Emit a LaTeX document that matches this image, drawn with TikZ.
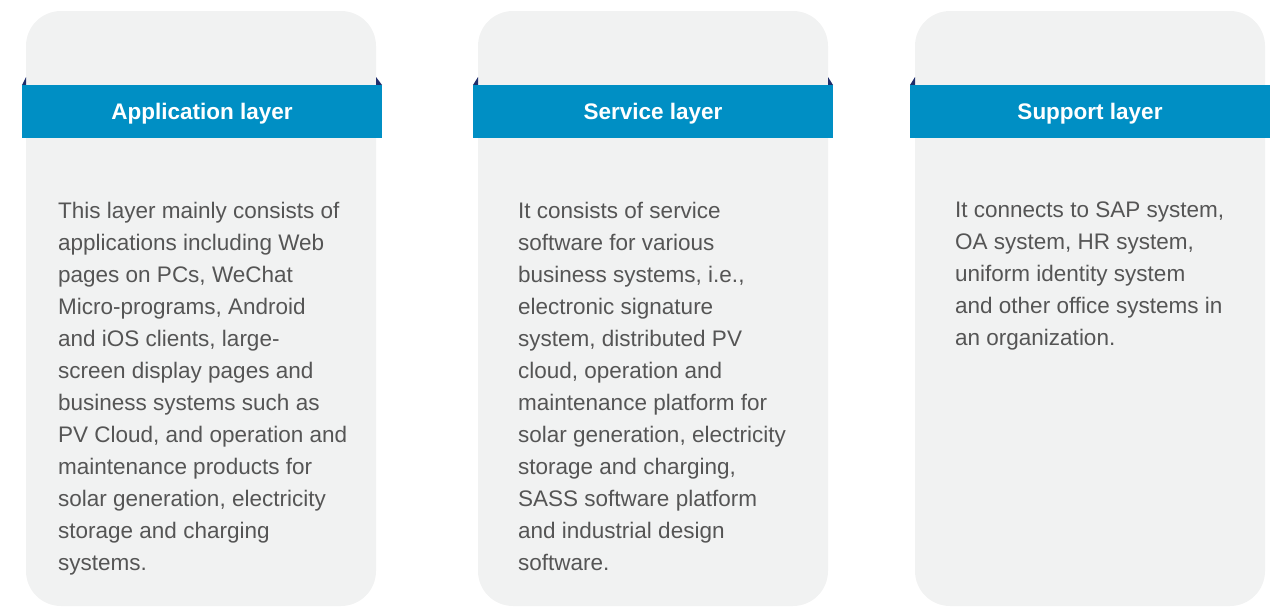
\documentclass[tikz,border=0pt]{standalone}
\usepackage{fontspec}
\setmainfont{Liberation Sans}
\definecolor{cardbg}{HTML}{F1F2F2}
\definecolor{ribbon}{HTML}{008FC4}
\definecolor{fold}{HTML}{1F2D6B}
\definecolor{bodytxt}{HTML}{555555}
\tikzset{
  card/.style={fill=cardbg, draw=none, rounded corners=35pt},
  ribbonbox/.style={fill=ribbon, draw=none, minimum width=360pt, minimum height=53pt, inner sep=0pt,
    text=white, font=\fontsize{22.5pt}{26pt}\selectfont\bfseries},
  headtext/.style={inner sep=0pt, text=white, font=\fontsize{22.5pt}{26pt}\selectfont\bfseries},
  foldtri/.style={fill=fold, draw=none},
  bodytext/.style={anchor=north west, inner sep=0pt, align=left, text=bodytxt,
    font=\fontsize{22.5pt}{32pt}\selectfont}
}
\begin{document}
\begin{tikzpicture}[x=1pt,y=-1pt]
\useasboundingbox (0,0) rectangle (1283,606);
% cards
\foreach \cx/\nm in {26/a,478/b,915/c}{
  \fill[card] (\cx,11) rectangle ++(350,595);
}
% fold triangles
\fill[foldtri] (26,77) -- (26,85) -- (22,85) -- cycle;
\fill[foldtri] (376,77) -- (376,85) -- (382,85) -- cycle;
\fill[foldtri] (478,77) -- (478,85) -- (473,85) -- cycle;
\fill[foldtri] (828,77) -- (828,85) -- (833,85) -- cycle;
\fill[foldtri] (915,77) -- (915,85) -- (910,85) -- cycle;
% ribbons
\node[ribbonbox] (h1) at (202,111.5) {};
\node[ribbonbox] (h2) at (653,111.5) {};
\node[ribbonbox] (h3) at (1090,111.5) {};
\node[headtext] (h1t) at (202,114) {Application layer};
\node[headtext] (h2t) at (653,114) {Service layer};
\node[headtext] (h3t) at (1090,114) {Support layer};
% body texts
\node[bodytext] (t1) at (58,202) {This layer mainly consists of\\applications including Web\\pages on PCs, WeChat\\Micro-programs, Android\\and iOS clients, large-\\screen display pages and\\business systems such as\\PV Cloud, and operation and\\maintenance products for\\solar generation, electricity\\storage and charging\\systems.};
\node[bodytext] (t2) at (518,202) {It consists of service\\software for various\\business systems, i.e.,\\electronic signature\\system, distributed PV\\cloud, operation and\\maintenance platform for\\solar generation, electricity\\storage and charging,\\SASS software platform\\and industrial design\\software.};
\node[bodytext] (t3) at (955,202) {It connects to SAP system,\\OA system, HR system,\\uniform identity system\\and other office systems in\\an organization.};
\end{tikzpicture}
\end{document}
